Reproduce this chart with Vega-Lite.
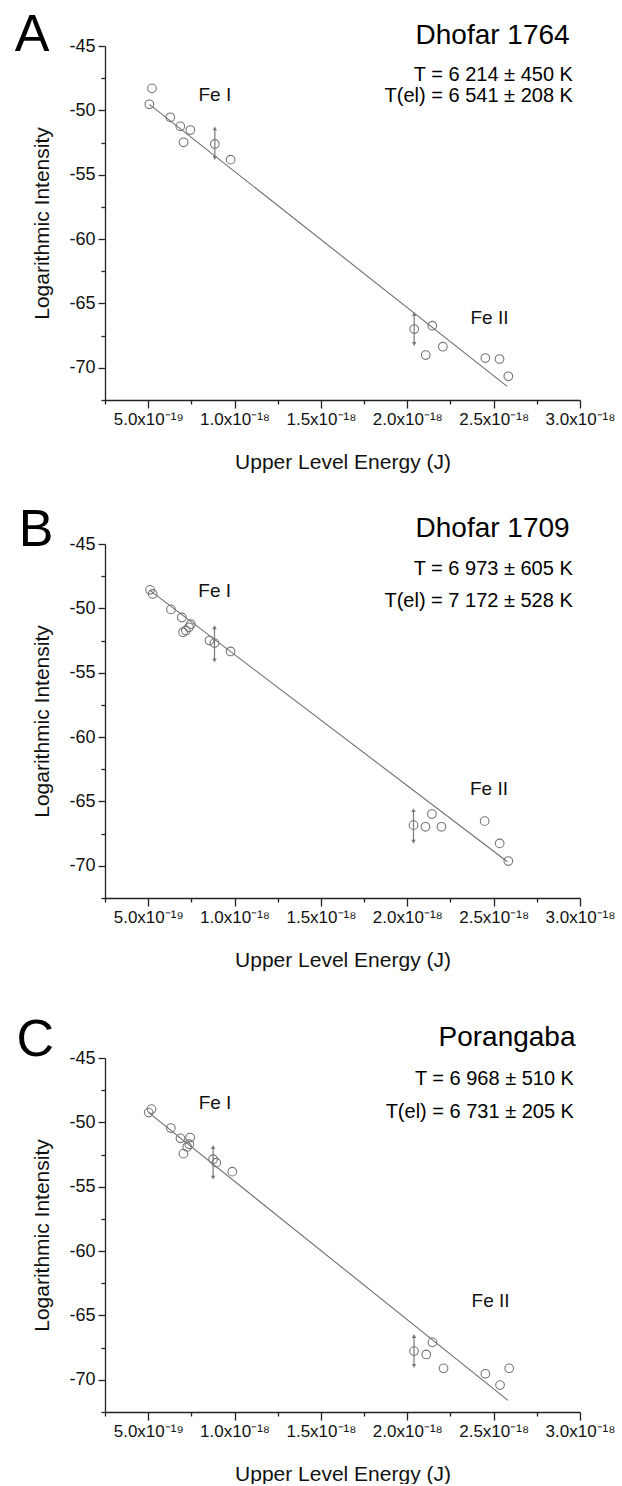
{
  "$schema": "https://vega.github.io/schema/vega-lite/v6.json",
  "background": "white",
  "padding": {"left": 14, "top": 8, "right": 0, "bottom": 0},
  "config": {
    "view": {"stroke": null},
    "font": "Liberation Sans",
    "axis": {"grid": false, "domainColor": "#222", "tickColor": "#222", "labelColor": "#111", "titleColor": "#111", "labelFont": "Liberation Sans", "titleFont": "Liberation Sans", "titleFontWeight": "normal", "labelFontSize": 17, "titleFontSize": 21, "domainWidth": 1.3, "tickWidth": 1.3, "labelOverlap": false},
    "axisX": {"labelExpr": "abs(datum.value/5e-19 - round(datum.value/5e-19)) > 0.1 ? '' : (datum.value < 7e-19 ? '5.0x10⁻¹⁹' : format(datum.value*1e18, '.1f') + 'x10⁻¹⁸')", "labelBound": false, "labelFlush": false, "labelPadding": 3, "titlePadding": 24},
    "axisY": {"labelExpr": "abs(datum.value/5 - round(datum.value/5)) < 0.1 ? replace(format(datum.value, 'd'), '−', '-') : ''", "labelPadding": 3, "titlePadding": 16, "labelFontSize": 18}
  },
  "datasets": {
    "pts": [
      {"p": "A", "x": 5.22e-19, "y": -48.29}, {"p": "A", "x": 5.07e-19, "y": -49.53}, {"p": "A", "x": 6.28e-19, "y": -50.54}, {"p": "A", "x": 6.86e-19, "y": -51.24}, {"p": "A", "x": 7.05e-19, "y": -52.48}, {"p": "A", "x": 7.44e-19, "y": -51.53}, {"p": "A", "x": 8.86e-19, "y": -52.61}, {"p": "A", "x": 9.77e-19, "y": -53.83},
      {"p": "A", "x": 2.04e-18, "y": -66.99}, {"p": "A", "x": 2.107e-18, "y": -69.01}, {"p": "A", "x": 2.145e-18, "y": -66.73}, {"p": "A", "x": 2.206e-18, "y": -68.36}, {"p": "A", "x": 2.452e-18, "y": -69.24}, {"p": "A", "x": 2.534e-18, "y": -69.32}, {"p": "A", "x": 2.585e-18, "y": -70.66},
      {"p": "B", "x": 5.11e-19, "y": -48.56}, {"p": "B", "x": 5.26e-19, "y": -48.88}, {"p": "B", "x": 6.32e-19, "y": -50.08}, {"p": "B", "x": 6.95e-19, "y": -50.71}, {"p": "B", "x": 7.47e-19, "y": -51.23}, {"p": "B", "x": 7.02e-19, "y": -51.85}, {"p": "B", "x": 7.18e-19, "y": -51.72}, {"p": "B", "x": 7.36e-19, "y": -51.47}, {"p": "B", "x": 8.55e-19, "y": -52.5}, {"p": "B", "x": 8.84e-19, "y": -52.7}, {"p": "B", "x": 9.77e-19, "y": -53.35},
      {"p": "B", "x": 2.036e-18, "y": -66.84}, {"p": "B", "x": 2.105e-18, "y": -66.97}, {"p": "B", "x": 2.143e-18, "y": -65.98}, {"p": "B", "x": 2.198e-18, "y": -66.97}, {"p": "B", "x": 2.448e-18, "y": -66.53}, {"p": "B", "x": 2.535e-18, "y": -68.26}, {"p": "B", "x": 2.585e-18, "y": -69.63},
      {"p": "C", "x": 5.19e-19, "y": -48.97}, {"p": "C", "x": 5.03e-19, "y": -49.24}, {"p": "C", "x": 6.31e-19, "y": -50.44}, {"p": "C", "x": 6.87e-19, "y": -51.24}, {"p": "C", "x": 7.43e-19, "y": -51.18}, {"p": "C", "x": 7.38e-19, "y": -51.7}, {"p": "C", "x": 7.04e-19, "y": -52.43}, {"p": "C", "x": 7.26e-19, "y": -51.91}, {"p": "C", "x": 8.76e-19, "y": -52.86}, {"p": "C", "x": 8.94e-19, "y": -53.13}, {"p": "C", "x": 9.87e-19, "y": -53.83},
      {"p": "C", "x": 2.039e-18, "y": -67.77}, {"p": "C", "x": 2.11e-18, "y": -68.03}, {"p": "C", "x": 2.146e-18, "y": -67.09}, {"p": "C", "x": 2.21e-18, "y": -69.11}, {"p": "C", "x": 2.452e-18, "y": -69.53}, {"p": "C", "x": 2.537e-18, "y": -70.41}, {"p": "C", "x": 2.59e-18, "y": -69.11}
    ],
    "arr": [
      {"p": "A", "x": 8.86e-19, "lo": -53.7, "hi": -51.4}, {"p": "A", "x": 2.04e-18, "lo": -68.15, "hi": -65.82},
      {"p": "B", "x": 8.84e-19, "lo": -54.05, "hi": -51.47}, {"p": "B", "x": 2.036e-18, "lo": -68.13, "hi": -65.67},
      {"p": "C", "x": 8.76e-19, "lo": -54.29, "hi": -51.91}, {"p": "C", "x": 2.039e-18, "lo": -68.93, "hi": -66.6}
    ],
    "fit": [
      {"p": "A", "x": 5.07e-19, "y": -49.53}, {"p": "A", "x": 2.578e-18, "y": -71.44},
      {"p": "B", "x": 5.1e-19, "y": -48.6}, {"p": "B", "x": 2.58e-18, "y": -69.68},
      {"p": "C", "x": 5.03e-19, "y": -49.24}, {"p": "C", "x": 2.583e-18, "y": -71.6}
    ],
    "lbl": [
      {"p": "A", "k": "letter", "x": -2.73e-19, "y": -45.37, "t": "A"},
      {"p": "A", "k": "name", "x": 2.94e-18, "y": -44.84, "t": "Dhofar 1764"},
      {"p": "A", "k": "temp", "x": 2.959e-18, "y": -47.72, "t": "T = 6 214 ± 450 K"},
      {"p": "A", "k": "temp", "x": 2.959e-18, "y": -49.35, "t": "T(el) = 6 541 ± 208 K"},
      {"p": "A", "k": "ion", "x": 8.86e-19, "y": -49.27, "t": "Fe I"},
      {"p": "A", "k": "ion", "x": 2.476e-18, "y": -66.6, "t": "Fe II"},
      {"p": "B", "k": "letter", "x": -2.49e-19, "y": -45.13, "t": "B"},
      {"p": "B", "k": "name", "x": 2.94e-18, "y": -44.49, "t": "Dhofar 1709"},
      {"p": "B", "k": "temp", "x": 2.958e-18, "y": -47.38, "t": "T = 6 973 ± 605 K"},
      {"p": "B", "k": "temp", "x": 2.958e-18, "y": -49.86, "t": "T(el) = 7 172 ± 528 K"},
      {"p": "B", "k": "ion", "x": 8.85e-19, "y": -49.14, "t": "Fe I"},
      {"p": "B", "k": "ion", "x": 2.473e-18, "y": -64.51, "t": "Fe II"},
      {"p": "C", "k": "letter", "x": -2.63e-19, "y": -44.83, "t": "C"},
      {"p": "C", "k": "name", "x": 2.974e-18, "y": -44.1, "t": "Porangaba"},
      {"p": "C", "k": "temp", "x": 2.965e-18, "y": -47.11, "t": "T = 6 968 ± 510 K"},
      {"p": "C", "k": "temp", "x": 2.965e-18, "y": -49.63, "t": "T(el) = 6 731 ± 205 K"},
      {"p": "C", "k": "ion", "x": 8.87e-19, "y": -48.93, "t": "Fe I"},
      {"p": "C", "k": "ion", "x": 2.482e-18, "y": -64.35, "t": "Fe II"}
    ]
  },
  "spacing": 43,
  "vconcat": [
    {
      "spacing": 31,
      "vconcat": [
        {
          "width": 475, "height": 354,
          "encoding": {
            "x": {"field": "x", "type": "quantitative", "title": "Upper Level Energy (J)", "scale": {"domain": [2.5e-19, 3e-18], "nice": false, "zero": false}, "axis": {"values": [2.5e-19, 5e-19, 7.5e-19, 1e-18, 1.25e-18, 1.5e-18, 1.75e-18, 2e-18, 2.25e-18, 2.5e-18, 2.75e-18, 3e-18], "tickSize": {"condition": {"test": "abs(datum.value/5e-19 - round(datum.value/5e-19)) > 0.1", "value": 4}, "value": 8}}},
            "y": {"field": "y", "type": "quantitative", "title": "Logarithmic Intensity", "scale": {"domain": [-72.5, -45], "nice": false, "zero": false}, "axis": {"values": [-72.5, -70, -67.5, -65, -62.5, -60, -57.5, -55, -52.5, -50, -47.5, -45], "tickSize": {"condition": {"test": "abs(datum.value/5 - round(datum.value/5)) > 0.1", "value": 4}, "value": 7}}}
          },
          "layer": [
            {"data": {"name": "fit"}, "transform": [{"filter": "datum.p == 'A'"}], "mark": {"type": "line", "color": "#6e6e6e", "strokeWidth": 1.1}},
            {"data": {"name": "arr"}, "transform": [{"filter": "datum.p == 'A'"}], "mark": {"type": "rule", "color": "#7a7a7a", "strokeWidth": 1.2},
             "encoding": {"y": {"field": "lo", "type": "quantitative", "title": "Logarithmic Intensity"}, "y2": {"field": "hi"}}},
            {"data": {"name": "arr"}, "transform": [{"filter": "datum.p == 'A'"}], "mark": {"type": "point", "shape": "triangle-up", "filled": true, "size": 20, "color": "#7a7a7a", "opacity": 1},
             "encoding": {"y": {"field": "hi", "type": "quantitative", "title": "Logarithmic Intensity"}}},
            {"data": {"name": "arr"}, "transform": [{"filter": "datum.p == 'A'"}], "mark": {"type": "point", "shape": "triangle-down", "filled": true, "size": 20, "color": "#7a7a7a", "opacity": 1},
             "encoding": {"y": {"field": "lo", "type": "quantitative", "title": "Logarithmic Intensity"}}},
            {"data": {"name": "pts"}, "transform": [{"filter": "datum.p == 'A'"}], "mark": {"type": "point", "shape": "circle", "filled": false, "size": 75, "strokeWidth": 1.1, "color": "#767676", "opacity": 1}},
            {"data": {"name": "lbl"}, "transform": [{"filter": "datum.p == 'A' && datum.k == 'letter'"}], "mark": {"type": "text", "fontSize": 52, "align": "left", "baseline": "alphabetic", "color": "#000", "clip": false}, "encoding": {"text": {"field": "t"}}},
            {"data": {"name": "lbl"}, "transform": [{"filter": "datum.p == 'A' && datum.k == 'name'"}], "mark": {"type": "text", "fontSize": 28, "align": "right", "baseline": "alphabetic", "color": "#000", "clip": false}, "encoding": {"text": {"field": "t"}}},
            {"data": {"name": "lbl"}, "transform": [{"filter": "datum.p == 'A' && datum.k == 'temp'"}], "mark": {"type": "text", "fontSize": 20, "align": "right", "baseline": "alphabetic", "color": "#000", "clip": false}, "encoding": {"text": {"field": "t"}}},
            {"data": {"name": "lbl"}, "transform": [{"filter": "datum.p == 'A' && datum.k == 'ion'"}], "mark": {"type": "text", "fontSize": 19, "align": "center", "baseline": "alphabetic", "color": "#111", "clip": false}, "encoding": {"text": {"field": "t"}}}
          ]
        },
        {
          "width": 475, "height": 354,
          "encoding": {
            "x": {"field": "x", "type": "quantitative", "title": "Upper Level Energy (J)", "scale": {"domain": [2.5e-19, 3e-18], "nice": false, "zero": false}, "axis": {"values": [2.5e-19, 5e-19, 7.5e-19, 1e-18, 1.25e-18, 1.5e-18, 1.75e-18, 2e-18, 2.25e-18, 2.5e-18, 2.75e-18, 3e-18], "tickSize": {"condition": {"test": "abs(datum.value/5e-19 - round(datum.value/5e-19)) > 0.1", "value": 4}, "value": 8}}},
            "y": {"field": "y", "type": "quantitative", "title": "Logarithmic Intensity", "scale": {"domain": [-72.5, -45], "nice": false, "zero": false}, "axis": {"values": [-72.5, -70, -67.5, -65, -62.5, -60, -57.5, -55, -52.5, -50, -47.5, -45], "tickSize": {"condition": {"test": "abs(datum.value/5 - round(datum.value/5)) > 0.1", "value": 4}, "value": 7}}}
          },
          "layer": [
            {"data": {"name": "fit"}, "transform": [{"filter": "datum.p == 'B'"}], "mark": {"type": "line", "color": "#6e6e6e", "strokeWidth": 1.1}},
            {"data": {"name": "arr"}, "transform": [{"filter": "datum.p == 'B'"}], "mark": {"type": "rule", "color": "#7a7a7a", "strokeWidth": 1.2},
             "encoding": {"y": {"field": "lo", "type": "quantitative", "title": "Logarithmic Intensity"}, "y2": {"field": "hi"}}},
            {"data": {"name": "arr"}, "transform": [{"filter": "datum.p == 'B'"}], "mark": {"type": "point", "shape": "triangle-up", "filled": true, "size": 20, "color": "#7a7a7a", "opacity": 1},
             "encoding": {"y": {"field": "hi", "type": "quantitative", "title": "Logarithmic Intensity"}}},
            {"data": {"name": "arr"}, "transform": [{"filter": "datum.p == 'B'"}], "mark": {"type": "point", "shape": "triangle-down", "filled": true, "size": 20, "color": "#7a7a7a", "opacity": 1},
             "encoding": {"y": {"field": "lo", "type": "quantitative", "title": "Logarithmic Intensity"}}},
            {"data": {"name": "pts"}, "transform": [{"filter": "datum.p == 'B'"}], "mark": {"type": "point", "shape": "circle", "filled": false, "size": 75, "strokeWidth": 1.1, "color": "#767676", "opacity": 1}},
            {"data": {"name": "lbl"}, "transform": [{"filter": "datum.p == 'B' && datum.k == 'letter'"}], "mark": {"type": "text", "fontSize": 52, "align": "left", "baseline": "alphabetic", "color": "#000", "clip": false}, "encoding": {"text": {"field": "t"}}},
            {"data": {"name": "lbl"}, "transform": [{"filter": "datum.p == 'B' && datum.k == 'name'"}], "mark": {"type": "text", "fontSize": 28, "align": "right", "baseline": "alphabetic", "color": "#000", "clip": false}, "encoding": {"text": {"field": "t"}}},
            {"data": {"name": "lbl"}, "transform": [{"filter": "datum.p == 'B' && datum.k == 'temp'"}], "mark": {"type": "text", "fontSize": 20, "align": "right", "baseline": "alphabetic", "color": "#000", "clip": false}, "encoding": {"text": {"field": "t"}}},
            {"data": {"name": "lbl"}, "transform": [{"filter": "datum.p == 'B' && datum.k == 'ion'"}], "mark": {"type": "text", "fontSize": 19, "align": "center", "baseline": "alphabetic", "color": "#111", "clip": false}, "encoding": {"text": {"field": "t"}}}
          ]
        }
      ]
    },
    {
      "width": 475, "height": 354,
      "encoding": {
        "x": {"field": "x", "type": "quantitative", "title": "Upper Level Energy (J)", "scale": {"domain": [2.5e-19, 3e-18], "nice": false, "zero": false}, "axis": {"values": [2.5e-19, 5e-19, 7.5e-19, 1e-18, 1.25e-18, 1.5e-18, 1.75e-18, 2e-18, 2.25e-18, 2.5e-18, 2.75e-18, 3e-18], "tickSize": {"condition": {"test": "abs(datum.value/5e-19 - round(datum.value/5e-19)) > 0.1", "value": 4}, "value": 8}}},
        "y": {"field": "y", "type": "quantitative", "title": "Logarithmic Intensity", "scale": {"domain": [-72.5, -45], "nice": false, "zero": false}, "axis": {"values": [-72.5, -70, -67.5, -65, -62.5, -60, -57.5, -55, -52.5, -50, -47.5, -45], "tickSize": {"condition": {"test": "abs(datum.value/5 - round(datum.value/5)) > 0.1", "value": 4}, "value": 7}}}
      },
      "layer": [
        {"data": {"name": "fit"}, "transform": [{"filter": "datum.p == 'C'"}], "mark": {"type": "line", "color": "#6e6e6e", "strokeWidth": 1.1}},
        {"data": {"name": "arr"}, "transform": [{"filter": "datum.p == 'C'"}], "mark": {"type": "rule", "color": "#7a7a7a", "strokeWidth": 1.2},
         "encoding": {"y": {"field": "lo", "type": "quantitative", "title": "Logarithmic Intensity"}, "y2": {"field": "hi"}}},
        {"data": {"name": "arr"}, "transform": [{"filter": "datum.p == 'C'"}], "mark": {"type": "point", "shape": "triangle-up", "filled": true, "size": 20, "color": "#7a7a7a", "opacity": 1},
         "encoding": {"y": {"field": "hi", "type": "quantitative", "title": "Logarithmic Intensity"}}},
        {"data": {"name": "arr"}, "transform": [{"filter": "datum.p == 'C'"}], "mark": {"type": "point", "shape": "triangle-down", "filled": true, "size": 20, "color": "#7a7a7a", "opacity": 1},
         "encoding": {"y": {"field": "lo", "type": "quantitative", "title": "Logarithmic Intensity"}}},
        {"data": {"name": "pts"}, "transform": [{"filter": "datum.p == 'C'"}], "mark": {"type": "point", "shape": "circle", "filled": false, "size": 75, "strokeWidth": 1.1, "color": "#767676", "opacity": 1}},
        {"data": {"name": "lbl"}, "transform": [{"filter": "datum.p == 'C' && datum.k == 'letter'"}], "mark": {"type": "text", "fontSize": 52, "align": "left", "baseline": "alphabetic", "color": "#000", "clip": false}, "encoding": {"text": {"field": "t"}}},
        {"data": {"name": "lbl"}, "transform": [{"filter": "datum.p == 'C' && datum.k == 'name'"}], "mark": {"type": "text", "fontSize": 28, "align": "right", "baseline": "alphabetic", "color": "#000", "clip": false}, "encoding": {"text": {"field": "t"}}},
        {"data": {"name": "lbl"}, "transform": [{"filter": "datum.p == 'C' && datum.k == 'temp'"}], "mark": {"type": "text", "fontSize": 20, "align": "right", "baseline": "alphabetic", "color": "#000", "clip": false}, "encoding": {"text": {"field": "t"}}},
        {"data": {"name": "lbl"}, "transform": [{"filter": "datum.p == 'C' && datum.k == 'ion'"}], "mark": {"type": "text", "fontSize": 19, "align": "center", "baseline": "alphabetic", "color": "#111", "clip": false}, "encoding": {"text": {"field": "t"}}}
      ]
    }
  ]
}
